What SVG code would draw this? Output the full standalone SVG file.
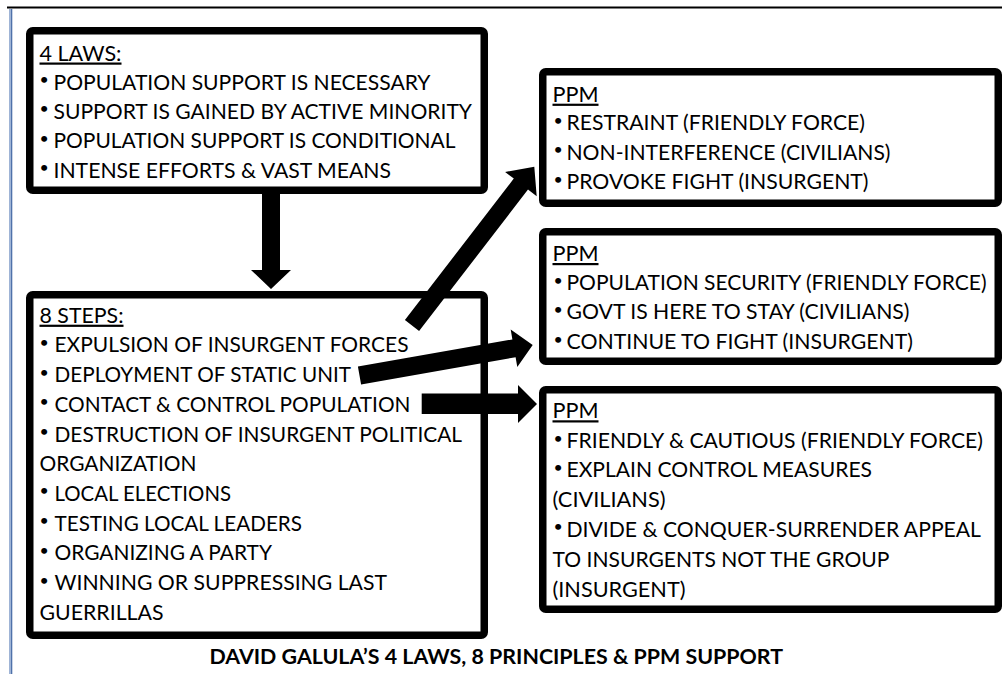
<svg xmlns="http://www.w3.org/2000/svg" width="1002" height="674" viewBox="0 0 1002 674">
<style>
.box{fill:#fff;stroke:#000;stroke-width:7.5;stroke-linejoin:round}
.t{font-family:"Lato","Open Sans","Liberation Sans",sans-serif;font-size:22px;fill:#000}
.b{font-family:"Lato","Open Sans","Liberation Sans",sans-serif;font-size:16px;fill:#000}
.h{text-decoration:underline}
.cap{font-family:"Lato","Open Sans","Liberation Sans",sans-serif;font-size:21px;font-weight:bold;fill:#000}
.arrow{fill:#000}
</style>
<rect x="0" y="0" width="1002" height="674" fill="#fff"/>
<g id="frame">
<line x1="7" y1="7.5" x2="1002" y2="7.5" stroke="#000" stroke-width="2"/>
<rect x="9" y="9" width="3" height="665" fill="#9fb4d6"/>
<rect x="11" y="9" width="1.3" height="665" fill="#4f72aa"/>
</g>
<g id="node-laws">
<rect class="box" x="29.75" y="30.75" width="454.5" height="159.5" rx="3"/>
<text class="t h" x="39.5" y="60.5" textLength="82" lengthAdjust="spacingAndGlyphs">4 LAWS:</text>
<text class="b" x="39.5" y="85">•</text>
<text class="t" x="53.5" y="89.5" textLength="377" lengthAdjust="spacingAndGlyphs">POPULATION SUPPORT IS NECESSARY</text>
<text class="b" x="39.5" y="114">•</text>
<text class="t" x="53.5" y="118.5" textLength="418.5" lengthAdjust="spacingAndGlyphs">SUPPORT IS GAINED BY ACTIVE MINORITY</text>
<text class="b" x="39.5" y="143.5">•</text>
<text class="t" x="53.5" y="148" textLength="402" lengthAdjust="spacingAndGlyphs">POPULATION SUPPORT IS CONDITIONAL</text>
<text class="b" x="39.5" y="173">•</text>
<text class="t" x="53.5" y="177.5" textLength="337.5" lengthAdjust="spacingAndGlyphs">INTENSE EFFORTS &amp; VAST MEANS</text>
</g>
<g id="node-steps">
<rect class="box" x="29.75" y="294.75" width="454.5" height="340.5" rx="3"/>
<text class="t h" x="39.5" y="322.7" textLength="84" lengthAdjust="spacingAndGlyphs">8 STEPS:</text>
<text class="b" x="39.5" y="347.9">•</text>
<text class="t" x="54.5" y="352.4" textLength="354" lengthAdjust="spacingAndGlyphs">EXPULSION OF INSURGENT FORCES</text>
<text class="b" x="39.5" y="377.6">•</text>
<text class="t" x="54.5" y="382.1" textLength="296.5" lengthAdjust="spacingAndGlyphs">DEPLOYMENT OF STATIC UNIT</text>
<text class="b" x="39.5" y="407.3">•</text>
<text class="t" x="54.5" y="411.8" textLength="356" lengthAdjust="spacingAndGlyphs">CONTACT &amp; CONTROL POPULATION</text>
<text class="b" x="39.5" y="437">•</text>
<text class="t" x="54.5" y="441.5" textLength="407.5" lengthAdjust="spacingAndGlyphs">DESTRUCTION OF INSURGENT POLITICAL</text>
<text class="t" x="39.5" y="471.2" textLength="157" lengthAdjust="spacingAndGlyphs">ORGANIZATION</text>
<text class="b" x="39.5" y="496.4">•</text>
<text class="t" x="54.5" y="500.9" textLength="176.5" lengthAdjust="spacingAndGlyphs">LOCAL ELECTIONS</text>
<text class="b" x="39.5" y="526.1">•</text>
<text class="t" x="54.5" y="530.6" textLength="247.5" lengthAdjust="spacingAndGlyphs">TESTING LOCAL LEADERS</text>
<text class="b" x="39.5" y="555.8">•</text>
<text class="t" x="54.5" y="560.3" textLength="217.5" lengthAdjust="spacingAndGlyphs">ORGANIZING A PARTY</text>
<text class="b" x="39.5" y="585.5">•</text>
<text class="t" x="54.5" y="590" textLength="332.5" lengthAdjust="spacingAndGlyphs">WINNING OR SUPPRESSING LAST</text>
<text class="t" x="39.5" y="619.7" textLength="124" lengthAdjust="spacingAndGlyphs">GUERRILLAS</text>
</g>
<g id="node-ppm1">
<rect class="box" x="542.75" y="71.75" width="455.5" height="131.5" rx="3"/>
<text class="t h" x="552.5" y="101.7" textLength="46" lengthAdjust="spacingAndGlyphs">PPM</text>
<text class="b" x="553.5" y="125.8">•</text>
<text class="t" x="566.5" y="130.3" textLength="298.5" lengthAdjust="spacingAndGlyphs">RESTRAINT (FRIENDLY FORCE)</text>
<text class="b" x="553.5" y="155">•</text>
<text class="t" x="566.5" y="159.5" textLength="324" lengthAdjust="spacingAndGlyphs">NON-INTERFERENCE (CIVILIANS)</text>
<text class="b" x="553.5" y="184.7">•</text>
<text class="t" x="566.5" y="189.2" textLength="302" lengthAdjust="spacingAndGlyphs">PROVOKE FIGHT (INSURGENT)</text>
</g>
<g id="node-ppm2">
<rect class="box" x="542.75" y="231.75" width="455.5" height="129.5" rx="3"/>
<text class="t h" x="552.5" y="261" textLength="46" lengthAdjust="spacingAndGlyphs">PPM</text>
<text class="b" x="553.5" y="285.5">•</text>
<text class="t" x="566.5" y="290" textLength="420" lengthAdjust="spacingAndGlyphs">POPULATION SECURITY (FRIENDLY FORCE)</text>
<text class="b" x="553.5" y="314.8">•</text>
<text class="t" x="566.5" y="319.3" textLength="343" lengthAdjust="spacingAndGlyphs">GOVT IS HERE TO STAY (CIVILIANS)</text>
<text class="b" x="553.5" y="344.8">•</text>
<text class="t" x="566.5" y="349.3" textLength="346.5" lengthAdjust="spacingAndGlyphs">CONTINUE TO FIGHT (INSURGENT)</text>
</g>
<g id="node-ppm3">
<rect class="box" x="542.75" y="389.75" width="455.5" height="219.5" rx="3"/>
<text class="t h" x="552.5" y="418.3" textLength="46" lengthAdjust="spacingAndGlyphs">PPM</text>
<text class="b" x="553.5" y="443.8">•</text>
<text class="t" x="566.5" y="448.3" textLength="416.5" lengthAdjust="spacingAndGlyphs">FRIENDLY &amp; CAUTIOUS (FRIENDLY FORCE)</text>
<text class="b" x="553.5" y="472.8">•</text>
<text class="t" x="566.5" y="477.3" textLength="305.5" lengthAdjust="spacingAndGlyphs">EXPLAIN CONTROL MEASURES</text>
<text class="t" x="552.5" y="507.3" textLength="113" lengthAdjust="spacingAndGlyphs">(CIVILIANS)</text>
<text class="b" x="553.5" y="532.2">•</text>
<text class="t" x="566.5" y="536.7" textLength="414.5" lengthAdjust="spacingAndGlyphs">DIVIDE &amp; CONQUER-SURRENDER APPEAL</text>
<text class="t" x="552.5" y="566.7" textLength="337" lengthAdjust="spacingAndGlyphs">TO INSURGENTS NOT THE GROUP</text>
<text class="t" x="552.5" y="596.7" textLength="133" lengthAdjust="spacingAndGlyphs">(INSURGENT)</text>
</g>
<g id="connectors">
<polygon class="arrow" points="262,190 280,190 280,270 291,270 271,289 251,270 262,270"/>
<polygon class="arrow" points="404.9,320 513.8,178.6 505.1,171.9 534.3,166.7 536.7,196.3 528,189.6 419.1,331"/>
<polygon class="arrow" points="357.9,366.6 512.4,339.4 510.7,329.6 532.7,345 517.3,367 515.6,357.2 361.1,384.4"/>
<polygon class="arrow" points="421.7,393.5 518,393.5 518,385 537,404 518,423 518,414 421.7,414"/>
</g>
<g id="caption">
<text class="cap" x="209.5" y="663.5" textLength="573.5" lengthAdjust="spacingAndGlyphs">DAVID GALULA’S 4 LAWS, 8 PRINCIPLES &amp; PPM SUPPORT</text>
</g>
</svg>
